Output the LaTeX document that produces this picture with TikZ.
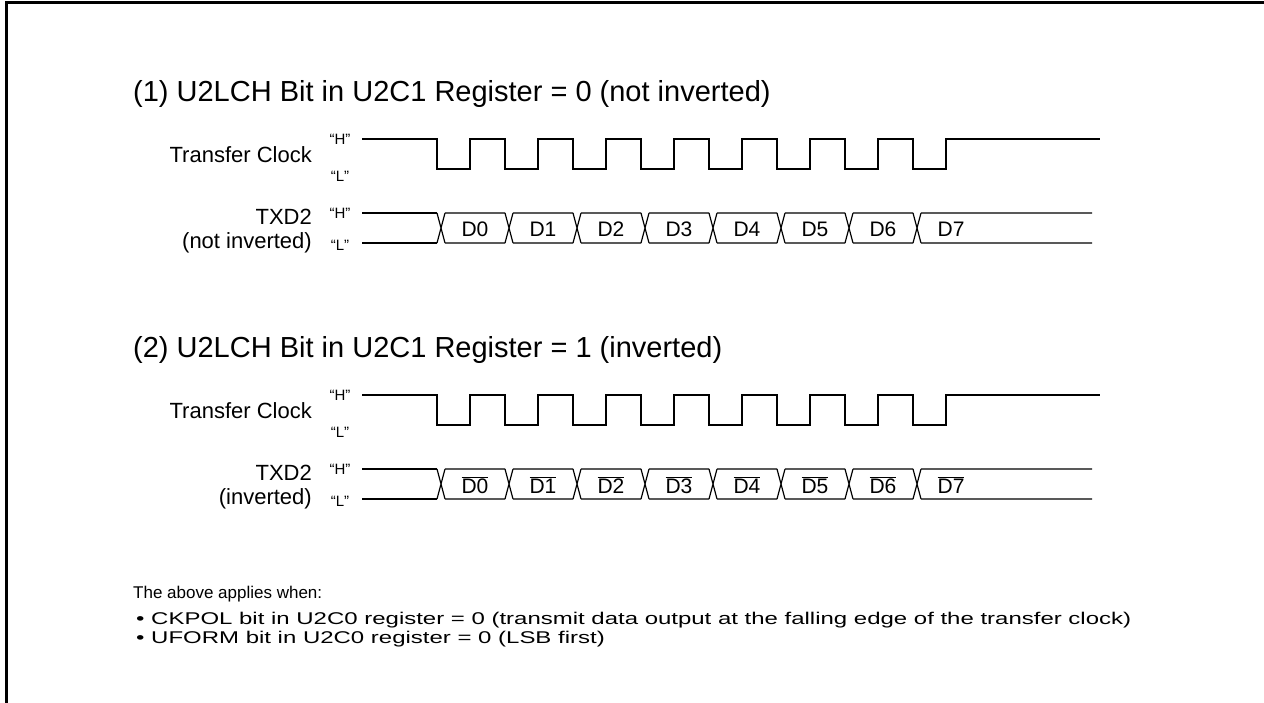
\documentclass[tikz,border=0pt]{standalone}
\usepackage{fontspec}
\setmainfont{Liberation Sans}
\usepackage{tikz}
\usetikzlibrary{positioning, calc}
\tikzset{
  %% Signal line
  wave/.style={draw=black, line width=1.2pt, line join=miter},
  %% Section heading
  heading/.style={anchor=west, inner sep=0pt, font=\fontsize{29}{34}\selectfont},
  %% Signal name on the left
  signame/.style={anchor=east, inner sep=0pt, align=right,
                  font=\fontsize{22}{27}\selectfont},
  %% "H" / "L" level tags
  level/.style={inner sep=0pt, font=\fontsize{15}{18}\selectfont},
  %% Bit label inside the data window
  bitlbl/.style={inner sep=0pt, font=\fontsize{21}{25}\selectfont},
  %% Notes below
  note/.style={anchor=west, inner sep=0pt, font=\fontsize{17}{20}\selectfont},
  wide/.style={note, font=\fontsize{17}{20}\selectfont\addfontfeature{FakeStretch=1.41}},
}
\newcommand{\inv}[1]{$\overline{\mbox{#1}}$}

\begin{document}
\begin{tikzpicture}[x=1pt, y=-1pt]
  \useasboundingbox (0,0) rectangle (1264,703);

  %% Frame
  \draw[line width=3pt] (6,703) -- (6,3) -- (1264,3);

  %% ---- Two timing sections ----
  \foreach \s/\dy/\hd/\sub in {%
      1/0/{(1) U2LCH Bit in U2C1 Register = 0 (not inverted)}/{(not inverted)},
      2/256/{(2) U2LCH Bit in U2C1 Register = 1 (inverted)}/{(inverted)}} {
    \begin{scope}[shift={(0,\dy)}]
      \node[heading] (title\s) at (133,94) {\hd};

      %% Transfer clock
      \node[signame] (clk\s) at (312,155) {Transfer Clock};
      \node[level] (clkH\s) at (340,139) {“H”};
      \node[level] (clkL\s) at (340,176) {“L”};
      \draw[wave] (362,139)
        foreach \k in {0,...,7} {
          -- ({437+68*\k},139) -- ({437+68*\k},169)
          -- ({470+68*\k},169) -- ({470+68*\k},139)
        } -- (1100,139);

      %% Transmit data
      \node[signame] (txd\s) at (312,217) {TXD2};
      \node[signame] (sub\s) at (312,243) {\sub};
      \node[level] (txdH\s) at (340,213) {“H”};
      \node[level] (txdL\s) at (340,245) {“L”};
      \draw[wave] (362,213) -- (437,213) (362,243) -- (437,243);
      \foreach \k in {0,...,7} {
        \pgfmathsetmacro{\f}{437+68*\k}
        \pgfmathsetmacro{\e}{\k<7 ? \f+68 : 1092}
        \draw[wave] (\f,213) -- ++(8,30) (\f,243) -- ++(8,-30)
                    (\f+8,213) -- (\e,213) (\f+8,243) -- (\e,243);
        \ifnum\s=1
          \node[bitlbl] (bit\s\k) at (\f+38,229) {D\k};
        \else
          \node[bitlbl] (bit\s\k) at (\f+38,229) {\inv{D\k}};
        \fi
      }
    \end{scope}
  }

  %% ---- Notes ----
  \node[note] (cond) at (133,594) {The above applies when:};
  \node[wide] (cond1) at (136,620)
       {\textbullet\ CKPOL bit in U2C0 register = 0 (transmit data output at the falling edge of the transfer clock)};
  \node[wide] (cond2) at (136,639)
       {\textbullet\ UFORM bit in U2C0 register = 0 (LSB first)};

\end{tikzpicture}
\end{document}
